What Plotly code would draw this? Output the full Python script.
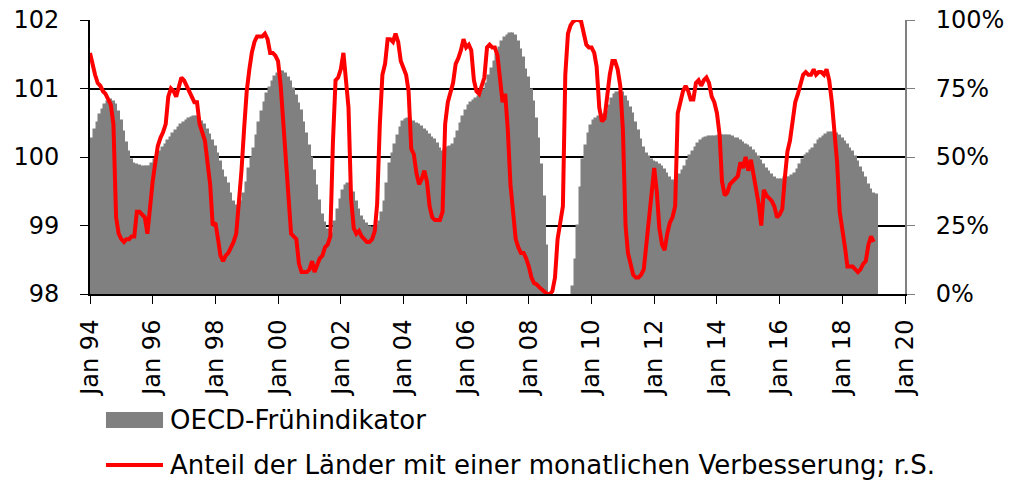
import pandas as pd
import plotly.graph_objects as go

# OECD leading indicator, monthly from Jan 1994 (left axis)
oecd_cli = [
    100.13, 100.26, 100.39, 100.50, 100.61, 100.69, 100.76, 100.80, 100.83, 100.81, 100.76, 100.66,  # 1994
    100.52, 100.37, 100.20, 100.08, 99.96, 99.90, 99.88, 99.87, 99.86, 99.86, 99.85, 99.85,  # 1995
    99.90, 99.96, 100.02, 100.08, 100.13, 100.18, 100.23, 100.28, 100.33, 100.38, 100.43, 100.47,  # 1996
    100.50, 100.53, 100.55, 100.57, 100.58, 100.58, 100.55, 100.51, 100.46, 100.40, 100.32, 100.23,  # 1997
    100.14, 100.05, 99.93, 99.80, 99.70, 99.61, 99.46, 99.34, 99.28, 99.27, 99.35, 99.46,  # 1998
    99.62, 99.83, 99.99, 100.11, 100.30, 100.50, 100.65, 100.79, 100.92, 101.01, 101.10, 101.17,  # 1999
    101.21, 101.24, 101.24, 101.21, 101.16, 101.09, 100.99, 100.89, 100.78, 100.67, 100.50, 100.33,  # 2000
    100.16, 99.99, 99.79, 99.57, 99.36, 99.15, 99.03, 98.93, 98.86, 98.88, 99.05, 99.22,  # 2001
    99.37, 99.50, 99.58, 99.60, 99.54, 99.47, 99.35, 99.22, 99.12, 99.06, 99.02, 98.98,  # 2002
    98.97, 98.96, 99.00, 99.05, 99.18, 99.34, 99.60, 99.90, 100.05, 100.18, 100.30, 100.42,  # 2003
    100.51, 100.54, 100.55, 100.54, 100.51, 100.48, 100.46, 100.44, 100.40, 100.36, 100.32, 100.28,  # 2004
    100.25, 100.19, 100.12, 100.07, 100.10, 100.13, 100.15, 100.18, 100.26, 100.36, 100.48, 100.59,  # 2005
    100.67, 100.75, 100.79, 100.82, 100.85, 100.88, 100.92, 100.98, 101.07, 101.18, 101.28, 101.39,  # 2006
    101.49, 101.59, 101.68, 101.73, 101.77, 101.79, 101.79, 101.76, 101.68, 101.56, 101.44, 101.27,  # 2007
    101.15, 100.98, 100.80, 100.55, 100.27, 99.88, 99.42, 98.70, 97.80, 97.50, 97.30, 97.20,  # 2008
    97.20, 97.30, 97.50, 97.70, 97.95, 98.10, 98.50, 99.00, 99.55, 99.95, 100.16, 100.33,  # 2009
    100.45, 100.52, 100.56, 100.58, 100.59, 100.62, 100.66, 100.75, 100.84, 100.90, 100.93, 100.94,  # 2010
    100.93, 100.88, 100.80, 100.72, 100.63, 100.50, 100.38, 100.25, 100.13, 100.05, 100.00, 99.96,  # 2011
    99.93, 99.91, 99.88, 99.85, 99.81, 99.75, 99.69, 99.65, 99.64, 99.68, 99.74, 99.80,  # 2012
    99.86, 99.94, 100.02, 100.07, 100.13, 100.19, 100.23, 100.26, 100.28, 100.29, 100.29, 100.29,  # 2013
    100.29, 100.30, 100.31, 100.31, 100.30, 100.30, 100.29, 100.27, 100.26, 100.24, 100.21, 100.18,  # 2014
    100.16, 100.13, 100.09, 100.05, 100.00, 99.94, 99.88, 99.83, 99.78, 99.74, 99.70, 99.67,  # 2015
    99.66, 99.67, 99.69, 99.69, 99.70, 99.72, 99.75, 99.81, 99.88, 99.95, 100.01, 100.05,  # 2016
    100.09, 100.12, 100.17, 100.23, 100.27, 100.29, 100.32, 100.35, 100.35, 100.35, 100.34, 100.31,  # 2017
    100.26, 100.22, 100.17, 100.12, 100.07, 100.00, 99.92, 99.84, 99.77, 99.70, 99.59, 99.52,  # 2018
    99.46, 99.45,  # 2019
]

# share of countries with a monthly improvement, in % (right axis)
share_improving = [
    88, 83, 80, 77, 76, 74, 73, 71, 69, 62, 28, 22,  # 1994
    20, 19, 20, 20, 21, 21, 30, 30, 29, 28, 22, 32,  # 1995
    41, 48, 54, 57, 59, 62, 72, 75, 74, 72, 75, 79,  # 1996
    78, 76, 74, 72, 70, 70, 62, 59, 56, 48, 40, 25,  # 1997
    26, 20, 14, 12, 14, 15, 17, 19, 22, 33, 45, 60,  # 1998
    74, 82, 88, 92, 94, 94, 94, 95, 93, 88, 88, 87,  # 1999
    85, 76, 63, 50, 35, 22, 21, 20, 11, 8, 8, 8,  # 2000
    9, 12, 8, 11, 13, 14, 17, 18, 21, 55, 78, 79,  # 2001
    82, 88, 80, 68, 35, 24, 22, 23, 21, 20, 19, 19,  # 2002
    20, 23, 33, 62, 80, 84, 93, 93, 92, 95, 92, 85,  # 2003
    82, 80, 74, 53, 51, 44, 40, 42, 45, 41, 32, 28,  # 2004
    27, 27, 27, 30, 62, 70, 73, 77, 84, 86, 89, 93,  # 2005
    90, 91, 89, 78, 74, 73, 76, 79, 90, 91, 90, 90,  # 2006
    87, 78, 70, 73, 60, 40, 28, 20, 17, 15, 15, 13,  # 2007
    10, 6, 4, 3.5, 2.5, 1.5, 0.5, 0, 0, 1, 6, 20,  # 2008
    26, 32, 80, 95, 98, 99.5, 100, 100, 99.5, 95, 91, 90,  # 2009
    90, 88, 83, 68, 63, 64, 72, 80, 85, 85, 82, 76,  # 2010
    60, 25, 15, 11, 7, 6, 6, 7, 9, 18, 28, 34,  # 2011
    46, 37, 24, 18, 16, 22, 26, 28, 32, 66, 71, 74,  # 2012
    76, 74, 71, 71, 77, 78, 76, 78, 79, 77, 72, 70,  # 2013
    66, 58, 41, 36, 37, 40, 41, 42, 43, 48, 46, 50,  # 2014
    45, 49, 44, 39, 33, 25, 38, 36, 35, 34, 32, 28,  # 2015
    29, 31, 42, 52, 56, 62, 70, 73, 76, 80, 81, 80,  # 2016
    80, 82, 80, 81, 81, 80, 82, 78, 70, 60, 48, 30,  # 2017
    22, 17, 10, 10, 10, 9, 8, 9, 11, 12, 18, 21,  # 2018
    19,  # 2019
]

share_ticks = [0, 25, 50, 75, 100]
share_ticktext = ["0%", "25%", "50%", "75%", "100%"]

start_month = "1994-01-01"
cli_dates = pd.date_range(start_month, periods=len(oecd_cli), freq="MS")
share_dates = pd.date_range(start_month, periods=len(share_improving), freq="MS")

name_cli = "OECD-Frühindikator"
name_share = "Anteil der Länder mit einer monatlichen Verbesserung; r.S."

font_family = "DejaVu Sans"

fig = go.Figure()

# grey monthly bars (outline in the same grey closes the hairline gaps)
fig.add_trace(go.Bar(
    x=cli_dates,
    y=oecd_cli,
    marker=dict(color="#808080", line=dict(color="#808080", width=1.5)),
    name=name_cli,
    yaxis="y",
))

# red line on the right axis
fig.add_trace(go.Scatter(
    x=share_dates,
    y=share_improving,
    mode="lines",
    line=dict(color="#FF0000", width=4),
    name=name_share,
    yaxis="y2",
))

fig.update_layout(
    width=1027,
    height=483,
    margin=dict(l=90, r=122, t=20, b=189),
    paper_bgcolor="white",
    plot_bgcolor="white",
    showlegend=False,
    bargap=0,
    font=dict(family=font_family, size=24, color="black"),
    xaxis=dict(
        type="date",
        range=["1994-01-01", "2020-01-01"],
        tick0="1994-01-01",
        dtick="M24",
        tickformat="%b %y",
        tickangle=-90,
        ticks="outside",
        ticklen=8,
        tickcolor="black",
        showline=True,
        linecolor="black",
        linewidth=2,
        showgrid=False,
        zeroline=False,
        automargin=False,
        ticklabelstandoff=6,
    ),
    yaxis=dict(
        range=[98, 102],
        dtick=1,
        ticks="outside",
        ticklen=8,
        tickcolor="black",
        showline=True,
        linecolor="black",
        linewidth=2,
        showgrid=True,
        gridcolor="black",
        gridwidth=1.5,
        zeroline=False,
        automargin=False,
        ticklabelstandoff=16,
    ),
    yaxis2=dict(
        range=[0, 100],
        tickvals=share_ticks,
        ticktext=share_ticktext,
        overlaying="y",
        side="right",
        ticks="outside",
        ticklen=8,
        tickcolor="#808080",
        showline=True,
        linecolor="#808080",
        linewidth=2,
        showgrid=False,
        zeroline=False,
        automargin=False,
        ticklabelstandoff=16,
    ),
)

# legend drawn below the plot, like the original
fig.add_shape(type="rect", xref="paper", yref="paper",
              x0=0.0196, x1=0.0896, y0=-0.489, y1=-0.431,
              fillcolor="#808080", line=dict(width=0))
fig.add_shape(type="line", xref="paper", yref="paper",
              x0=0.0196, x1=0.0896, y0=-0.624, y1=-0.624,
              line=dict(color="#FF0000", width=4))
fig.add_annotation(text=name_cli, xref="paper", yref="paper",
                   x=0.0957, y=-0.460, xanchor="left", yanchor="middle",
                   showarrow=False, font=dict(size=26))
fig.add_annotation(text=name_share, xref="paper", yref="paper",
                   x=0.0957, y=-0.624, xanchor="left", yanchor="middle",
                   showarrow=False, font=dict(size=26))

# drop the default page margin so the figure sits at the window corner
fig.write_html("out.html", config={"displayModeBar": False},
               post_script="document.body.style.margin = '0';")
